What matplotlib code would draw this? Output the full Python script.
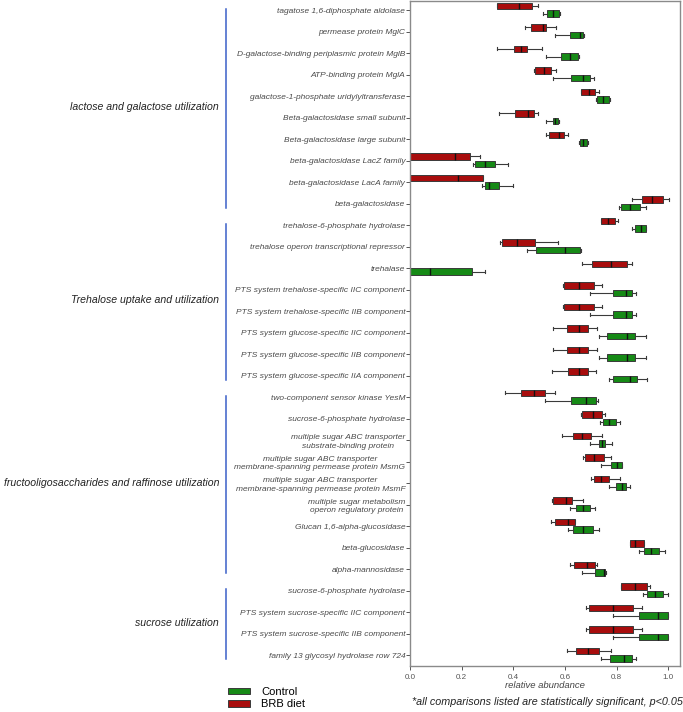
import matplotlib
matplotlib.use('Agg')
import matplotlib.pyplot as plt
import matplotlib.transforms as mtransforms
from matplotlib.patches import Patch

plt.rcParams['font.family'] = ['Liberation Sans', 'DejaVu Sans']

labels = [
    'tagatose 1,6-diphosphate aldolase',
    'permease protein MglC',
    'D-galactose-binding periplasmic protein MglB',
    'ATP-binding protein MglA',
    'galactose-1-phosphate uridylyltransferase',
    'Beta-galactosidase small subunit',
    'Beta-galactosidase large subunit',
    'beta-galactosidase LacZ family',
    'beta-galactosidase LacA family',
    'beta-galactosidase',
    'trehalose-6-phosphate hydrolase',
    'trehalose operon transcriptional repressor',
    'trehalase',
    'PTS system trehalose-specific IIC component',
    'PTS system trehalose-specific IIB component',
    'PTS system glucose-specific IIC component',
    'PTS system glucose-specific IIB component',
    'PTS system glucose-specific IIA component',
    'two-component sensor kinase YesM',
    'sucrose-6-phosphate hydrolase',
    'multiple sugar ABC transporter\nsubstrate-binding protein',
    'multiple sugar ABC transporter\nmembrane-spanning permease protein MsmG',
    'multiple sugar ABC transporter\nmembrane-spanning permease protein MsmF',
    'multiple sugar metabolism\noperon regulatory protein',
    'Glucan 1,6-alpha-glucosidase',
    'beta-glucosidase',
    'alpha-mannosidase',
    'sucrose-6-phosphate hydrolase',
    'PTS system sucrose-specific IIC component',
    'PTS system sucrose-specific IIB component',
    'family 13 glycosyl hydrolase row 724',
]

# [whisker low, q1, median, q3, whisker high]
brb = [
    [0.335, 0.338, 0.420, 0.474, 0.494],
    [0.446, 0.470, 0.513, 0.528, 0.567],
    [0.335, 0.402, 0.428, 0.454, 0.509],
    [0.480, 0.482, 0.518, 0.544, 0.564],
    [0.660, 0.662, 0.693, 0.716, 0.731],
    [0.345, 0.407, 0.457, 0.479, 0.495],
    [0.528, 0.537, 0.575, 0.595, 0.610],
    [-0.05, -0.05, 0.175, 0.232, 0.271],
    [-0.05, -0.05, 0.184, 0.281, 0.284],
    [0.860, 0.897, 0.938, 0.981, 1.001],
    [0.738, 0.741, 0.765, 0.795, 0.805],
    [0.348, 0.356, 0.416, 0.485, 0.572],
    [0.665, 0.704, 0.777, 0.839, 0.860],
    [0.593, 0.597, 0.653, 0.711, 0.742],
    [0.593, 0.597, 0.653, 0.711, 0.742],
    [0.553, 0.608, 0.653, 0.688, 0.722],
    [0.553, 0.608, 0.653, 0.688, 0.722],
    [0.548, 0.612, 0.655, 0.687, 0.719],
    [0.369, 0.428, 0.478, 0.521, 0.561],
    [0.660, 0.665, 0.709, 0.745, 0.753],
    [0.588, 0.630, 0.664, 0.701, 0.742],
    [0.671, 0.679, 0.713, 0.750, 0.778],
    [0.702, 0.713, 0.738, 0.769, 0.813],
    [0.550, 0.553, 0.604, 0.626, 0.670],
    [0.545, 0.561, 0.612, 0.638, 0.640],
    [0.850, 0.852, 0.871, 0.906, 0.906],
    [0.621, 0.634, 0.684, 0.715, 0.725],
    [0.815, 0.816, 0.872, 0.916, 0.928],
    [0.683, 0.691, 0.787, 0.863, 0.896],
    [0.683, 0.691, 0.787, 0.863, 0.896],
    [0.606, 0.642, 0.687, 0.733, 0.778],
]

control = [
    [0.515, 0.532, 0.555, 0.577, 0.580],
    [0.563, 0.619, 0.657, 0.671, 0.672],
    [0.528, 0.585, 0.620, 0.652, 0.655],
    [0.552, 0.625, 0.669, 0.695, 0.711],
    [0.720, 0.723, 0.747, 0.771, 0.773],
    [0.527, 0.553, 0.562, 0.571, 0.575],
    [0.655, 0.657, 0.671, 0.686, 0.689],
    [0.242, 0.250, 0.291, 0.329, 0.381],
    [0.278, 0.289, 0.305, 0.344, 0.398],
    [0.810, 0.817, 0.851, 0.889, 0.915],
    [0.860, 0.872, 0.894, 0.912, 0.915],
    [0.451, 0.487, 0.599, 0.659, 0.660],
    [-0.05, -0.05, 0.076, 0.240, 0.290],
    [0.696, 0.785, 0.836, 0.861, 0.874],
    [0.696, 0.785, 0.836, 0.861, 0.874],
    [0.732, 0.763, 0.840, 0.872, 0.914],
    [0.732, 0.763, 0.840, 0.872, 0.914],
    [0.772, 0.785, 0.851, 0.878, 0.918],
    [0.524, 0.625, 0.680, 0.719, 0.729],
    [0.735, 0.747, 0.772, 0.796, 0.814],
    [0.697, 0.733, 0.745, 0.756, 0.782],
    [0.738, 0.778, 0.800, 0.820, 0.820],
    [0.772, 0.798, 0.820, 0.836, 0.853],
    [0.621, 0.642, 0.669, 0.696, 0.715],
    [0.613, 0.630, 0.669, 0.710, 0.731],
    [0.887, 0.907, 0.934, 0.965, 0.987],
    [0.665, 0.716, 0.750, 0.756, 0.757],
    [0.901, 0.918, 0.948, 0.978, 1.000],
    [0.786, 0.888, 0.959, 1.000, 1.000],
    [0.786, 0.888, 0.959, 1.000, 1.000],
    [0.740, 0.774, 0.827, 0.860, 0.876],
]

# (first row, last row, group name)
groups = [
    (0, 9, 'lactose and galactose utilization'),
    (10, 17, 'Trehalose uptake and utilization'),
    (18, 26, 'fructooligosaccharides and raffinose utilization'),
    (27, 30, 'sucrose utilization'),
]

red = '#a80d0d'
green = '#168a16'
edge = '#3a3a3a'

fig = plt.figure(figsize=(6.83, 7.12), dpi=100)
ax = fig.add_axes([410 / 683, 1 - 666 / 712, 270 / 683, 665 / 712])


def stats(rows):
    return [dict(whislo=r[0], q1=r[1], med=r[2], q3=r[3], whishi=r[4], fliers=[]) for r in rows]


n = len(labels)
for rows, off, col in [(brb, -0.19, red), (control, 0.17, green)]:
    ax.bxp(stats(rows), positions=[i + off for i in range(n)], widths=0.3,
           orientation='horizontal', patch_artist=True, showfliers=False,
           boxprops=dict(facecolor=col, edgecolor=edge, linewidth=0.7),
           medianprops=dict(color='#111111', linewidth=1.0),
           whiskerprops=dict(color=edge, linewidth=0.8),
           capprops=dict(color=edge, linewidth=0.8), capwidths=0.14,
           manage_ticks=False)

ax.set_xlim(0, 1.045)
ax.set_ylim(30.51, -0.42)
ax.set_xticks([0, 0.2, 0.4, 0.6, 0.8, 1.0])
ax.set_xticklabels(['0.0', '0.2', '0.4', '0.6', '0.8', '1.0'])
ax.set_yticks(range(n))
ax.set_yticklabels(labels, fontsize=6.0, style='italic', color='#4a4a4a',
                   multialignment='center')
for t in ax.get_yticklabels():
    t.set_linespacing(1.35)
ax.tick_params(axis='y', length=3, width=0.7, color='#555555', pad=0.5)
ax.tick_params(axis='x', length=3, width=0.7, color='#555555', labelsize=5.8,
               labelcolor='#555555', pad=3)
for s in ax.spines.values():
    s.set_color('#8a8a8a')
    s.set_linewidth(1.0)
ax.set_xlabel('relative abundance', fontsize=6.8, style='italic', color='#444444',
              labelpad=0)

# group brackets and names
tr = mtransforms.blended_transform_factory(fig.transFigure, ax.transData)
for a, b, name in groups:
    ax.plot([226 / 683, 226 / 683], [a - 0.05, b + 0.2], transform=tr,
            color='#3a5fc8', linewidth=1.1, clip_on=False)
    ax.text(219 / 683, (a + b) / 2, name, transform=tr, ha='right', va='center',
            fontsize=7.6, style='italic', color='#222222')

handles = [Patch(facecolor=green, edgecolor=edge, linewidth=0.7),
           Patch(facecolor=red, edgecolor=edge, linewidth=0.7)]
fig.legend(handles, ['Control', 'BRB diet'], loc='upper left',
           bbox_to_anchor=(228 / 683, 1 - 687 / 712), frameon=False,
           fontsize=8, handlelength=2.0, handleheight=0.55, labelspacing=0.2,
           handletextpad=1.0, borderpad=0, borderaxespad=0)

fig.text(683 / 683, 1 - 702 / 712,
         '*all comparisons listed are statistically significant, p<0.05',
         ha='right', va='center', fontsize=7.75, style='italic', color='#222222')

fig.savefig('out.png', dpi=100)
